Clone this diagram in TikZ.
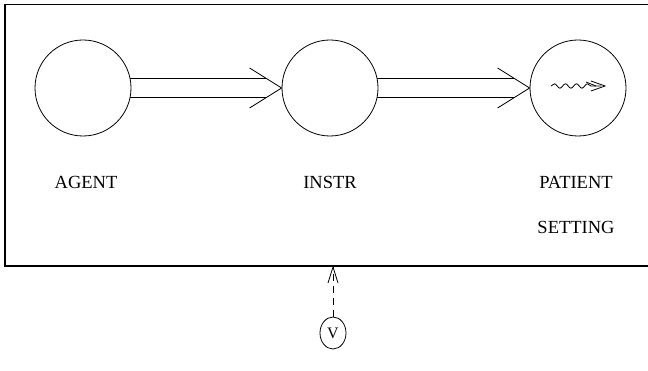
\documentclass[tikz,border=0pt]{standalone}
\usepackage{fontspec}
\setmainfont{Liberation Serif}
\usetikzlibrary{arrows.meta,decorations.pathmorphing,calc,shapes.geometric}
\begin{document}
\begin{tikzpicture}[x=1pt,y=1pt,
  role/.style={circle,draw,line width=0.8pt,minimum size=96pt,inner sep=0pt},
  lbl/.style={font=\fontsize{18.5}{22}\selectfont,inner sep=0pt,anchor=base},
  rail/.style={line width=0.8pt},
  barb/.style={line width=0.8pt},
  frame/.style={line width=1.2pt}]
\useasboundingbox (0,0) rectangle (648,-371);
\draw[frame] (648,-4.5) -- (5,-4.5) -- (5,-266) -- (648,-266);
\node[role] (agent) at (83,-88) {};
\node[role] (instr) at (330,-88) {};
\node[role] (patient) at (578,-88) {};
\node[lbl] (agentl) at (86,-189) {AGENT};
\node[lbl] (instrl) at (330,-189) {INSTR};
\node[lbl] (patientl) at (576,-189) {PATIENT};
\node[lbl] (settingl) at (576,-234) {SETTING};
% double arrows
\foreach \s/\t in {agent/instr,instr/patient}{
  \draw[rail] ($(\s.east)+(-1,9.5)$) -- ($(\t.west)+(-15.2,9.5)$);
  \draw[rail] ($(\s.east)+(-1,-9.5)$) -- ($(\t.west)+(-15.2,-9.5)$);
  \draw[barb] ($(\t.west)+(-32,20)$) -- (\t.west) -- ($(\t.west)+(-32,-20)$);
}
% wavy arrow in patient
\coordinate (ws) at ($(patient.center)+(-27,2)$);
\coordinate (we) at ($(patient.center)+(27,2)$);
\draw[line width=0.8pt,decorate,decoration={snake,amplitude=2.2pt,segment length=11pt,post length=8pt}] (ws) -- ($(we)+(-4,0)$);
\draw[line width=0.8pt] ($(we)+(-14,5)$) -- (we) -- ($(we)+(-14,-5)$);
\draw[line width=0.8pt] ($(we)+(-19,4)$) -- ($(we)+(-9,0)$);
\node[ellipse,draw,line width=0.8pt,minimum width=26pt,minimum height=32pt,inner sep=0pt,font=\fontsize{16}{18}\selectfont] (v) at (333,-333) {V};
\coordinate (vt) at (333,-267);
\draw[line width=0.8pt,dash pattern=on 7pt off 5pt] (v.north) -- (vt);
\draw[line width=0.8pt] ($(vt)+(-5,-16)$) -- (vt) -- ($(vt)+(5,-16)$);
\end{tikzpicture}
\end{document}
